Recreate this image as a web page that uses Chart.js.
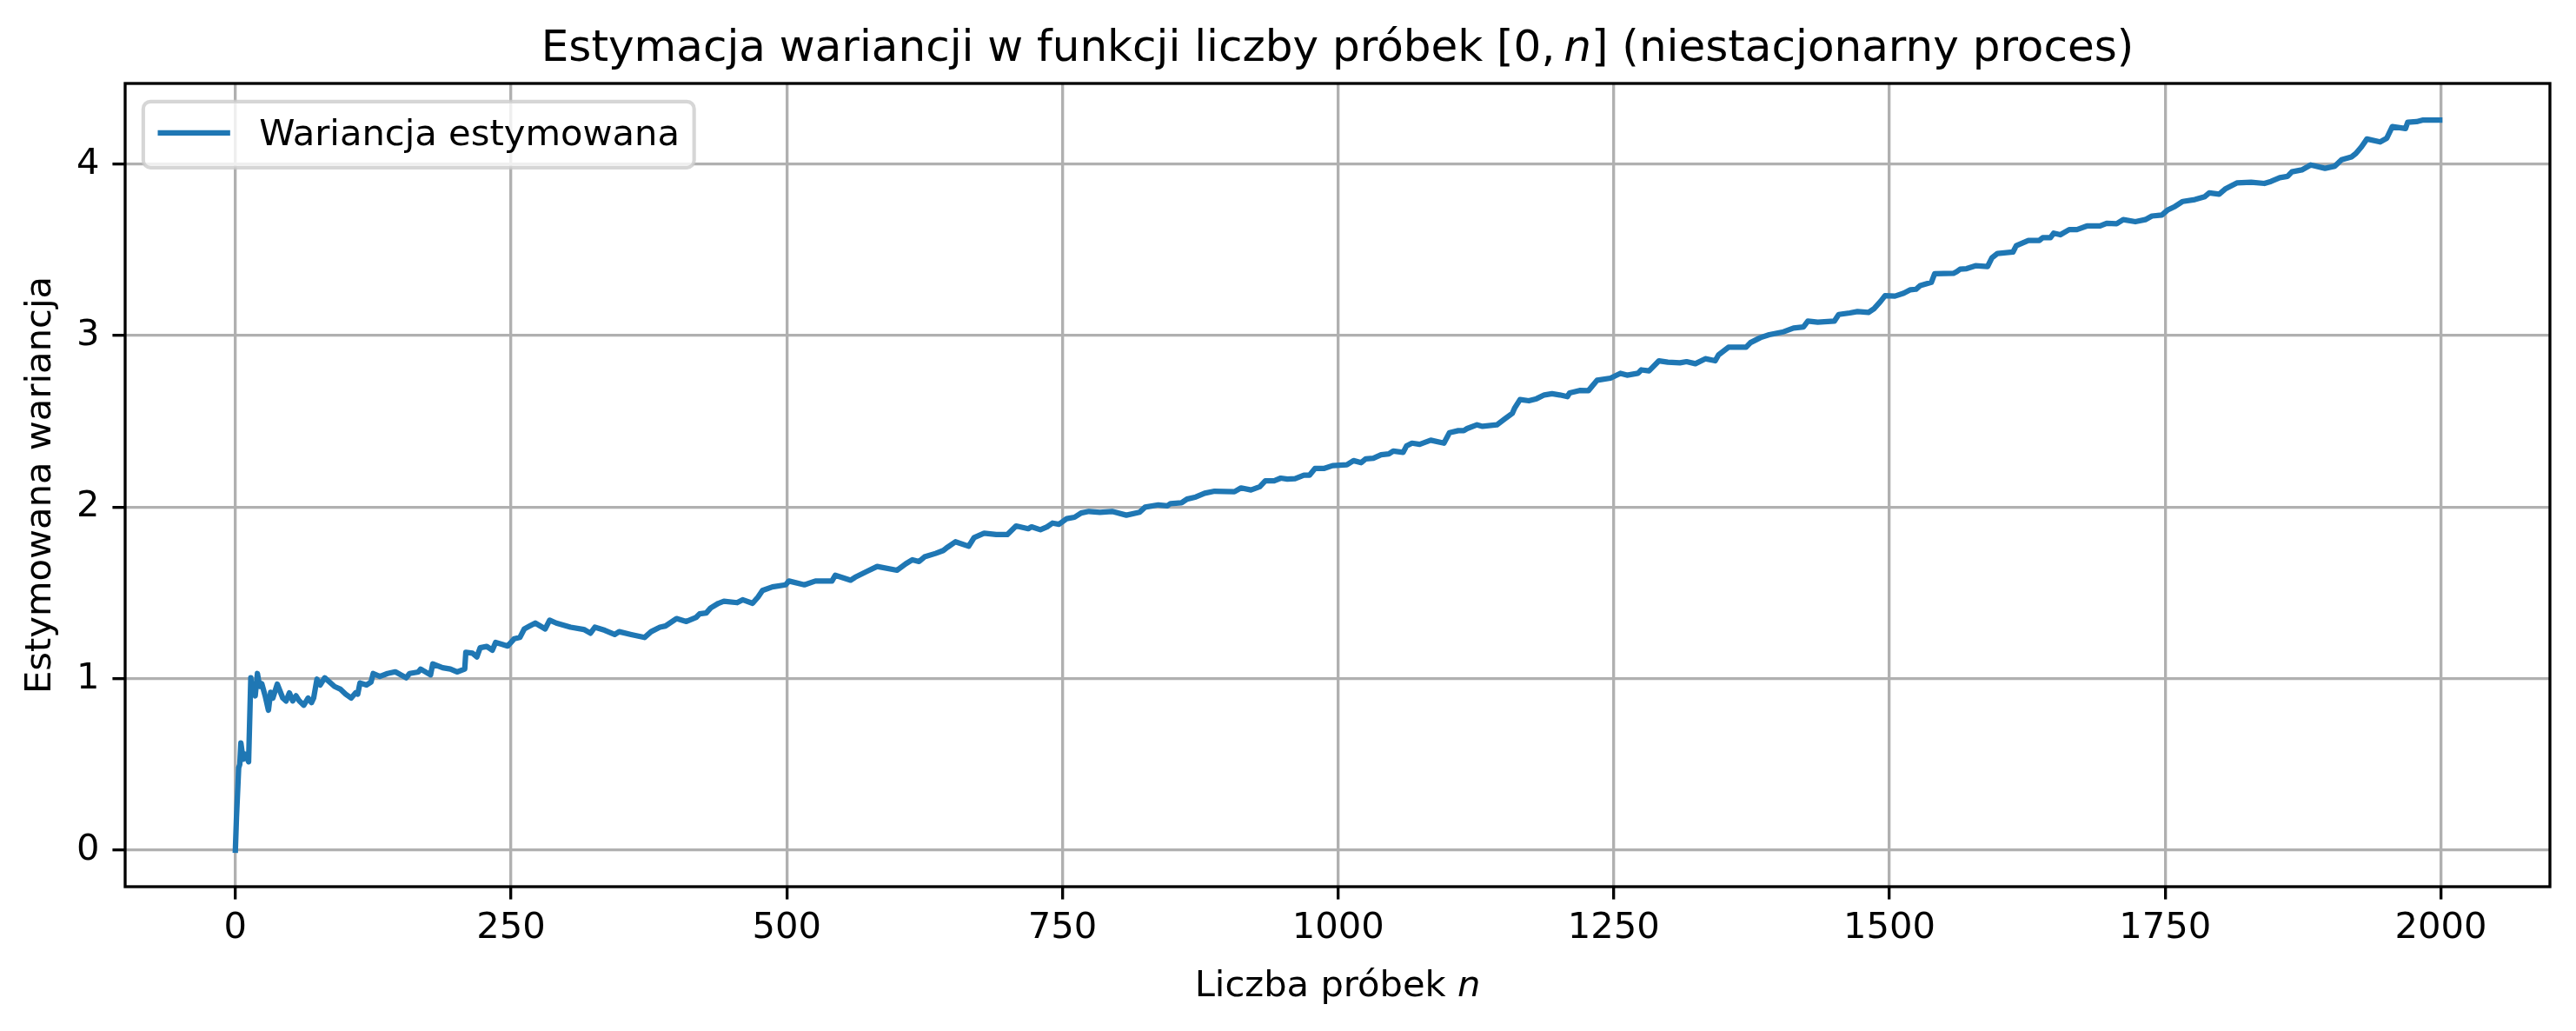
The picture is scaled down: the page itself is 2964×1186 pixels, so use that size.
<!DOCTYPE html>
<html><head><meta charset="utf-8">
<script src="https://cdn.jsdelivr.net/npm/chart.js@4.4.1/dist/chart.umd.min.js"></script>
<style>html,body{margin:0;padding:0;background:#fff;overflow:hidden}canvas{display:block}</style>
</head><body>
<canvas id="c" width="2964" height="1186" style="width:2964px;height:1186px"></canvas>
<script>
// ---- data ----
const sampleN = [0,1,3,4,5,7,9,12,14,15,18,20,22,24,27,30,32,34,38,43,46,49,52,55,58,62,66,69,71,74,77,81,90,95,100,105,109,111,113,119,123,125,131,138,145,150,155,158,166,168,177,179,188,195,201,208,209,215,219,222,228,233,236,242,247,253,258,
262,267,272,281,285,291,304,316,322,326,335,344,348,359,371,377,385,390,400,409,418,421,427,431,438,443,455,460,469,474,478,487,499,502,516,526,541,544,558,562,568,
574,582,600,608,614,620,625,635,642,646,653,665,670,679,690,700,708,719,722,730,736,741,747,754,761,767,774,784,795,808,820,825,837,845,848,858,863,871,879,888,
906,912,921,929,934,942,948,954,961,969,974,979,987,995,1008,1014,1021,1025,1032,1039,1046,1050,1059,1062,1067,1074,1084,1096,1101,1109,1114,1117,1126,1131,1144,1151,1158,1160,1165,1173,1180,1187,1194,1201,1208,1210,1219,
1227,1235,1247,1256,1262,1272,1275,1282,1291,1299,1310,1316,1324,1333,1342,1345,1354,1370,1374,1383,1391,1404,1413,1422,1426,1435,1450,1454,1464,1471,1481,1486,1492,1496,1505,1513,1519,1524,1528,1538,1541,1558,
1561,1564,1570,1578,1589,1593,1598,1612,1615,1626,1636,1639,1646,1649,1655,1663,1670,1679,1691,1697,1706,1712,1723,1732,1738,1747,1752,1759,1766,1777,1786,1790,1799,1805,1815,1828,1840,1846,1854,1861,1865,1874,1882,1895,1904,1910,1919,1923,1928,1933,1945,1951,1956,1968,1970,1978,1984,1999];
const varianceEst = [0,0.19,0.48,0.50,0.625,0.53,0.56,0.515,1.005,0.94,0.90,1.03,0.955,0.97,0.90,0.816,0.92,0.887,0.968,0.887,0.87,0.917,0.87,0.90,0.87,0.845,0.887,0.86,0.887,0.997,0.963,1.005,0.954,0.94,0.91,0.887,0.917,0.91,0.975,0.963,0.98,1.03,1.013,1.03,1.04,1.022,1.005,1.03,1.039,1.056,1.022,1.086,1.064,1.056,1.039,1.056,1.154,1.149,1.127,1.18,1.188,1.166,1.211,1.2,1.19,1.233,1.24,
1.29,1.307,1.324,1.29,1.341,1.324,1.30,1.287,1.265,1.30,1.282,1.257,1.274,1.257,1.24,1.274,1.30,1.307,1.35,1.333,1.358,1.378,1.383,1.412,1.439,1.451,1.443,1.46,1.439,1.476,1.514,1.535,1.547,1.569,1.547,1.569,1.569,1.603,1.574,1.591,1.61,
1.629,1.654,1.632,1.67,1.693,1.683,1.71,1.73,1.747,1.767,1.798,1.772,1.823,1.848,1.84,1.84,1.89,1.874,1.885,1.868,1.885,1.907,1.90,1.933,1.941,1.966,1.975,1.97,1.975,1.953,1.97,2.0,2.013,2.007,2.02,2.025,2.047,2.059,2.081,2.093,
2.09,2.112,2.10,2.119,2.153,2.153,2.169,2.163,2.166,2.186,2.186,2.225,2.225,2.242,2.247,2.271,2.259,2.281,2.285,2.305,2.31,2.327,2.319,2.356,2.373,2.366,2.39,2.373,2.434,2.446,2.446,2.458,2.48,2.471,2.48,2.514,2.547,2.576,2.627,2.62,2.632,2.654,2.661,2.654,2.644,2.666,2.68,
2.679,2.74,2.752,2.78,2.769,2.78,2.80,2.794,2.853,2.845,2.841,2.848,2.836,2.865,2.853,2.887,2.932,2.932,2.959,2.988,3.005,3.022,3.044,3.05,3.084,3.078,3.084,3.123,3.132,3.14,3.135,3.157,3.2,3.233,3.23,3.247,3.267,3.27,3.292,3.31,3.36,3.363,
3.373,3.387,3.39,3.407,3.403,3.454,3.479,3.487,3.524,3.555,3.555,3.571,3.571,3.597,3.588,3.618,3.618,3.639,3.639,3.655,3.652,3.676,3.664,3.676,3.697,3.703,3.731,3.753,3.782,3.793,3.81,3.832,3.824,3.857,3.89,3.894,3.887,3.899,3.921,3.928,3.955,3.966,3.995,3.975,3.988,4.025,4.042,4.062,4.10,4.146,4.129,4.151,4.218,4.207,4.244,4.247,4.257,4.257];
const xTickValues = [0,250,500,750,1000,1250,1500,1750,2000];
const yTickValues = [0,1,2,3,4];
const seriesLabel = 'Wariancja estymowana';
const titleParts = [['Estymacja wariancji w funkcji liczby próbek [0,\u2009', false], ['n', true], ['] (niestacjonarny proces)', false]];
const xLabelParts = [['Liczba próbek ', false], ['n', true]];
const yLabelText = 'Estymowana wariancja';

// ---- style ----
const PT = 300 / 72;
const FAMILY = "'DejaVu Sans', sans-serif";
const LABEL_SIZE = 10 * PT;
const TITLE_SIZE = 12 * PT;
const LINE_COLOR = '#1f77b4';

function drawParts(ctx, parts, size, cx, baseline) {
  const fonts = parts.map(p => (p[1] ? 'oblique ' : '') + size + 'px ' + FAMILY);
  let widths = parts.map((p, i) => { ctx.font = fonts[i]; return ctx.measureText(p[0]).width; });
  const total = widths.reduce((a, b) => a + b, 0);
  let x = cx - total / 2;
  ctx.textAlign = 'left';
  ctx.textBaseline = 'alphabetic';
  ctx.fillStyle = '#000';
  parts.forEach((p, i) => { ctx.font = fonts[i]; ctx.fillText(p[0], x, baseline); x += widths[i]; });
}

const decorPlugin = {
  id: 'decor',
  afterDraw(chart) {
    const ctx = chart.ctx, ca = chart.chartArea;
    ctx.save();
    // spines
    ctx.strokeStyle = '#000';
    ctx.lineWidth = 0.8 * PT;
    ctx.strokeRect(ca.left, ca.top, ca.right - ca.left, ca.bottom - ca.top);
    // legend
    const ds = chart.data.datasets[0];
    const fs = LABEL_SIZE;
    const lx = ca.left + 0.5 * fs, ly = ca.top + 0.5 * fs;
    ctx.font = fs + 'px ' + FAMILY;
    const tw = ctx.measureText(ds.label).width;
    const pad = 0.4 * fs, hl = 2 * fs, hp = 0.8 * fs;
    const w = pad + hl + hp + tw + pad, h = 76;
    ctx.beginPath();
    ctx.roundRect(lx, ly, w, h, 0.2 * fs);
    ctx.fillStyle = 'rgba(255,255,255,0.8)';
    ctx.fill();
    ctx.strokeStyle = 'rgba(204,204,204,0.8)';
    ctx.lineWidth = 1.0 * PT;
    ctx.stroke();
    ctx.beginPath();
    ctx.moveTo(lx + pad, ly + 36);
    ctx.lineTo(lx + pad + hl, ly + 36);
    ctx.strokeStyle = ds.borderColor;
    ctx.lineWidth = ds.borderWidth;
    ctx.lineCap = 'butt';
    ctx.stroke();
    ctx.fillStyle = '#000';
    ctx.textAlign = 'left';
    ctx.textBaseline = 'alphabetic';
    ctx.fillText(ds.label, lx + pad + hl + hp, ly + 50);
    // title & x label
    const cx = (ca.left + ca.right) / 2;
    drawParts(ctx, titleParts, TITLE_SIZE, cx, ca.top - 26);
    drawParts(ctx, xLabelParts, LABEL_SIZE, cx, 1146);
    ctx.restore();
  }
};

const points = sampleN.map((n, i) => ({ x: n, y: varianceEst[i] }));
const yMaxData = Math.max(...varianceEst), yMinData = Math.min(...varianceEst);
const yMargin = (yMaxData - yMinData) * 0.05;
const xMargin = (sampleN[sampleN.length - 1] - sampleN[0]) * 0.05;

const tickFont = { family: FAMILY, size: LABEL_SIZE };
new Chart(document.getElementById('c').getContext('2d'), {
  type: 'line',
  data: { datasets: [{
    label: seriesLabel, data: points,
    borderColor: LINE_COLOR, backgroundColor: LINE_COLOR,
    borderWidth: 1.5 * PT, pointRadius: 0, tension: 0, fill: false,
    borderJoinStyle: 'round', borderCapStyle: 'square'
  }]},
  options: {
    responsive: false, animation: false, devicePixelRatio: 1,
    layout: { padding: { left: 0, right: 30, top: 96, bottom: 0 } },
    plugins: { legend: { display: false }, title: { display: false }, tooltip: { enabled: false } },
    scales: {
      x: {
        type: 'linear', min: sampleN[0] - xMargin, max: sampleN[sampleN.length - 1] + xMargin,
        afterBuildTicks: s => { s.ticks = xTickValues.map(v => ({ value: v })); },
        afterFit: s => { s.height = 166; },
        ticks: { autoSkip: false, maxRotation: 0, color: '#000', font: tickFont, padding: 9, callback: v => String(v) },
        grid: { color: '#b0b0b0', lineWidth: 0.8 * PT, tickColor: '#000', tickWidth: 0.8 * PT, tickLength: 3.5 * PT },
        border: { display: false }
      },
      y: {
        type: 'linear', min: yMinData - yMargin, max: yMaxData + yMargin,
        afterBuildTicks: s => { s.ticks = yTickValues.map(v => ({ value: v })); },
        afterFit: s => { s.width = 144; },
        ticks: { autoSkip: false, color: '#000', font: tickFont, padding: 15, callback: v => String(v) },
        grid: { color: '#b0b0b0', lineWidth: 0.8 * PT, tickColor: '#000', tickWidth: 0.8 * PT, tickLength: 3.5 * PT },
        border: { display: false },
        title: { display: true, text: yLabelText, color: '#000', font: { family: FAMILY, size: LABEL_SIZE }, padding: { top: 22, bottom: 0 } }
      }
    }
  },
  plugins: [decorPlugin]
});
</script>
</body></html>
